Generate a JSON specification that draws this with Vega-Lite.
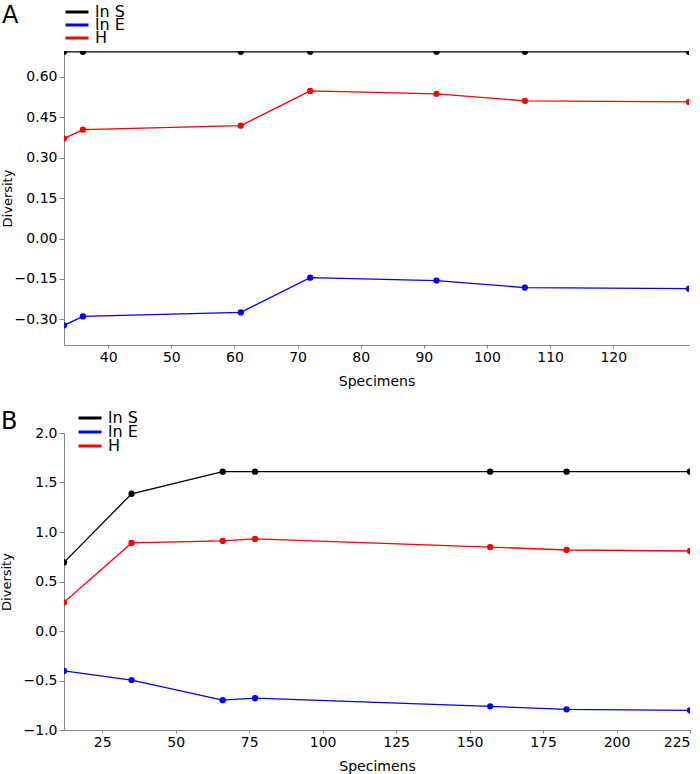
{
  "$schema": "https://vega.github.io/schema/vega-lite/v6.json",
  "padding": {"left": 0, "top": 4, "right": 5, "bottom": 5},
  "background": "white",
  "config": {
    "view": {"stroke": null},
    "font": "DejaVu Sans",
    "axis": {
      "domainColor": "#888888", "tickColor": "#888888", "tickSize": 5,
      "labelFont": "DejaVu Sans", "titleFont": "DejaVu Sans",
      "labelFontSize": 14, "titleFontSize": 14, "titleFontWeight": "normal",
      "labelColor": "#000000", "titleColor": "#000000", "grid": false, "labelPadding": 2
    },
    "axisX": {"tickSize": 3, "labelPadding": 2, "titlePadding": 10},
    "axisY": {"titleFontSize": 13},
    "legend": {
      "symbolType": "stroke", "symbolStrokeWidth": 3, "symbolSize": 529,
      "labelFont": "DejaVu Sans", "labelFontSize": 16, "labelOffset": 5,
      "padding": 0, "labelColor": "#000000"
    },
    "title": {"font": "DejaVu Sans", "fontSize": 24, "fontWeight": "normal", "color": "#000000"}
  },
  "datasets": {
    "div": [
      {"panel": "A", "series": "ln S", "spec": 33, "value": 0.693},
      {"panel": "A", "series": "ln S", "spec": 36, "value": 0.693},
      {"panel": "A", "series": "ln S", "spec": 61, "value": 0.693},
      {"panel": "A", "series": "ln S", "spec": 72, "value": 0.693},
      {"panel": "A", "series": "ln S", "spec": 92, "value": 0.693},
      {"panel": "A", "series": "ln S", "spec": 106, "value": 0.693},
      {"panel": "A", "series": "ln S", "spec": 132, "value": 0.693},
      {"panel": "A", "series": "H", "spec": 33, "value": 0.371},
      {"panel": "A", "series": "H", "spec": 36, "value": 0.404},
      {"panel": "A", "series": "H", "spec": 61, "value": 0.419},
      {"panel": "A", "series": "H", "spec": 72, "value": 0.548},
      {"panel": "A", "series": "H", "spec": 92, "value": 0.537},
      {"panel": "A", "series": "H", "spec": 106, "value": 0.511},
      {"panel": "A", "series": "H", "spec": 132, "value": 0.507},
      {"panel": "A", "series": "ln E", "spec": 33, "value": -0.322},
      {"panel": "A", "series": "ln E", "spec": 36, "value": -0.289},
      {"panel": "A", "series": "ln E", "spec": 61, "value": -0.274},
      {"panel": "A", "series": "ln E", "spec": 72, "value": -0.145},
      {"panel": "A", "series": "ln E", "spec": 92, "value": -0.156},
      {"panel": "A", "series": "ln E", "spec": 106, "value": -0.182},
      {"panel": "A", "series": "ln E", "spec": 132, "value": -0.186},
      {"panel": "B", "series": "ln S", "spec": 12, "value": 0.693},
      {"panel": "B", "series": "ln S", "spec": 35, "value": 1.386},
      {"panel": "B", "series": "ln S", "spec": 66, "value": 1.609},
      {"panel": "B", "series": "ln S", "spec": 77, "value": 1.609},
      {"panel": "B", "series": "ln S", "spec": 157, "value": 1.609},
      {"panel": "B", "series": "ln S", "spec": 183, "value": 1.609},
      {"panel": "B", "series": "ln S", "spec": 225, "value": 1.609},
      {"panel": "B", "series": "H", "spec": 12, "value": 0.29},
      {"panel": "B", "series": "H", "spec": 35, "value": 0.89},
      {"panel": "B", "series": "H", "spec": 66, "value": 0.91},
      {"panel": "B", "series": "H", "spec": 77, "value": 0.93},
      {"panel": "B", "series": "H", "spec": 157, "value": 0.848},
      {"panel": "B", "series": "H", "spec": 183, "value": 0.818},
      {"panel": "B", "series": "H", "spec": 225, "value": 0.808},
      {"panel": "B", "series": "ln E", "spec": 12, "value": -0.403},
      {"panel": "B", "series": "ln E", "spec": 35, "value": -0.496},
      {"panel": "B", "series": "ln E", "spec": 66, "value": -0.699},
      {"panel": "B", "series": "ln E", "spec": 77, "value": -0.679},
      {"panel": "B", "series": "ln E", "spec": 157, "value": -0.761},
      {"panel": "B", "series": "ln E", "spec": 183, "value": -0.791},
      {"panel": "B", "series": "ln E", "spec": 225, "value": -0.801}
    ]
  },
  "bounds": "flush",
  "spacing": 88,
  "resolve": {"scale": {"color": "independent"}, "legend": {"color": "independent"}},
  "vconcat": [
    {
      "width": 625, "height": 294,
      "title": {"text": "A", "anchor": "start", "frame": "bounds", "offset": 0, "dy": 21, "dx": 1},
      "data": {"name": "div"},
      "transform": [{"filter": "datum.panel === 'A'"}],
      "encoding": {
        "x": {"field": "spec", "type": "quantitative",
              "scale": {"domain": [33, 132], "nice": false, "zero": false},
              "axis": {"title": "Specimens", "values": [40, 50, 60, 70, 80, 90, 100, 110, 120]}},
        "y": {"field": "value", "type": "quantitative",
              "scale": {"domain": [-0.395, 0.696], "nice": false, "zero": false},
              "axis": {"title": "Diversity", "values": [-0.3, -0.15, 0, 0.15, 0.3, 0.45, 0.6], "format": ".2f", "titlePadding": 0}},
        "color": {"field": "series", "type": "nominal",
                  "scale": {"domain": ["ln S", "ln E", "H"], "range": ["#000000", "#0000ff", "#ff0000"]},
                  "legend": {"title": null, "orient": "none", "legendX": 0, "legendY": -44, "clipHeight": 10, "rowPadding": -8}}
      },
      "layer": [
        {"mark": {"type": "line", "strokeWidth": 1.3, "clip": true}},
        {"mark": {"type": "circle", "size": 40, "opacity": 1, "clip": true}}
      ]
    },
    {
      "width": 626, "height": 297,
      "title": {"text": "B", "anchor": "start", "frame": "bounds", "offset": 0, "dy": 22, "dx": 1},
      "data": {"name": "div"},
      "transform": [{"filter": "datum.panel === 'B'"}],
      "encoding": {
        "x": {"field": "spec", "type": "quantitative",
              "scale": {"domain": [12, 225], "nice": false, "zero": false},
              "axis": {"title": "Specimens", "values": [25, 50, 75, 100, 125, 150, 175, 200, 225]}},
        "y": {"field": "value", "type": "quantitative",
              "scale": {"domain": [-1, 2], "nice": false, "zero": false},
              "axis": {"title": "Diversity", "values": [-1, -0.5, 0, 0.5, 1, 1.5, 2], "format": ".1f", "titlePadding": 10}},
        "color": {"field": "series", "type": "nominal",
                  "scale": {"domain": ["ln S", "ln E", "H"], "range": ["#000000", "#0000ff", "#ff0000"]},
                  "legend": {"title": null, "orient": "none", "legendX": 13, "legendY": -21, "clipHeight": 12, "rowPadding": -8}}
      },
      "layer": [
        {"mark": {"type": "line", "strokeWidth": 1.3, "clip": true}},
        {"mark": {"type": "circle", "size": 40, "opacity": 1, "clip": true}}
      ]
    }
  ]
}
